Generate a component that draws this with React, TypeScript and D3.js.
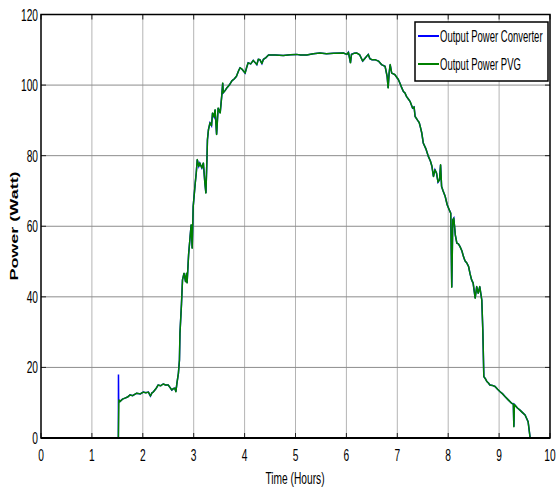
import React from "react";
import * as d3 from "d3";

const xTicks = [0, 1, 2, 3, 4, 5, 6, 7, 8, 9, 10];
const yTicks = [0, 20, 40, 60, 80, 100, 120];

// Output Power PVG (time in hours, power in W)
const pvgTime = [
  0, 1.52, 1.53, 1.55, 1.6, 1.65, 1.7, 1.75, 1.8, 1.88, 1.95, 2.01, 2.06, 2.11, 2.15, 2.18, 2.21, 2.26, 2.3, 2.35,
  2.4, 2.45, 2.5, 2.54, 2.57, 2.6, 2.63, 2.65, 2.67, 2.7, 2.72, 2.73, 2.76, 2.78, 2.81, 2.84, 2.86, 2.87, 2.9, 2.93,
  2.95, 2.97, 2.99, 3.03, 3.05, 3.07, 3.1, 3.12, 3.16, 3.19, 3.22, 3.24, 3.26, 3.27, 3.29, 3.32, 3.35, 3.37, 3.4, 3.42,
  3.45, 3.48, 3.52, 3.55, 3.57, 3.58, 3.62, 3.65, 3.7, 3.75, 3.8, 3.84, 3.88, 3.91, 3.95, 4.01, 4.04, 4.07, 4.12, 4.17,
  4.2, 4.24, 4.27, 4.3, 4.34, 4.37, 4.42, 4.47, 4.6, 4.76, 4.9, 5.02, 5.1, 5.22, 5.35, 5.48, 5.61, 5.75, 5.94, 6.01,
  6.04, 6.08, 6.1, 6.15, 6.2, 6.26, 6.32, 6.37, 6.43, 6.46, 6.5, 6.56, 6.63, 6.69, 6.76, 6.8, 6.82, 6.84, 6.86, 6.89,
  6.95, 7.02, 7.05, 7.08, 7.12, 7.15, 7.18, 7.22, 7.25, 7.3, 7.33, 7.35, 7.4, 7.43, 7.45, 7.48, 7.51, 7.56, 7.61, 7.65,
  7.68, 7.71, 7.74, 7.77, 7.8, 7.83, 7.85, 7.87, 7.9, 7.94, 7.98, 8.02, 8.05, 8.07, 8.09, 8.11, 8.14, 8.17, 8.2, 8.23,
  8.27, 8.3, 8.33, 8.37, 8.4, 8.43, 8.46, 8.49, 8.53, 8.56, 8.59, 8.62, 8.66, 8.68, 8.7, 8.73, 8.76, 8.79, 8.82, 8.87,
  8.92, 8.97, 9.02, 9.07, 9.12, 9.18, 9.25, 9.28, 9.29, 9.3, 9.36, 9.41, 9.46, 9.51, 9.57, 9.61,
];
const pvgPower = [
  0, 0, 10.8, 10.3, 11.0, 11.3, 11.6, 12.2, 12.0, 12.7, 12.5, 13.0, 12.8, 13.0, 11.9, 12.8, 13.1, 14.0, 15.0, 14.8,
  15.3, 15.0, 15.0, 14.2, 13.6, 14.0, 14.1, 13.1, 15.5, 18.4, 22.1, 29.7, 38.0, 44.8, 46.7, 44.3, 46.7, 43.9, 52.0, 57.1,
  60.4, 53.8, 65.6, 72.2, 75.1, 78.9, 77.0, 77.9, 76.5, 77.9, 72.2, 69.4, 78.9, 84.5, 87.4, 89.3, 88.5, 92.1, 91.0, 93.0,
  86.0, 93.5, 92.1, 96.8, 100.6, 97.8, 98.5, 99.2, 100.0, 101.2, 101.8, 102.5, 104.0, 104.9, 104.5, 103.4, 105.0, 106.3, 106.0, 107.0,
  106.5, 105.8, 107.3, 107.2, 106.1, 107.3, 107.8, 108.5, 108.5, 108.4, 108.6, 108.7, 108.5, 108.5, 108.9, 109.1, 108.9, 109.0, 109.1, 108.7,
  109.3, 106.3, 108.7, 109.0, 109.1, 108.6, 106.8, 107.7, 108.7, 107.5, 107.2, 107.2, 106.8, 105.8, 105.3, 102.5, 99.2, 103.5, 105.8, 103.4,
  103.0, 101.6, 100.6, 99.5, 98.2, 97.8, 96.8, 96.0, 95.4, 93.5, 93.8, 91.1, 90.0, 89.4, 88.3, 86.5, 83.6, 82.0, 79.8, 78.5,
  77.0, 74.1, 76.0, 75.1, 72.5, 73.2, 77.4, 71.3, 70.0, 68.5, 66.1, 64.7, 63.7, 42.7, 61.8, 62.3, 57.5, 55.2, 55.0, 54.3,
  53.0, 51.4, 50.2, 49.5, 48.6, 46.5, 44.8, 43.9, 39.6, 42.9, 41.0, 42.9, 39.1, 30.6, 17.4, 16.8, 16.0, 15.6, 15.0, 14.9,
  14.6, 13.8, 13.1, 12.5, 11.7, 10.8, 9.8, 9.6, 3.2, 9.5, 8.5, 7.9, 7.2, 6.5, 4.6, 0,
];

// Output Power Converter: follows the PVG curve, with a start-up spike
const converterSpikeTime = [1.52, 1.522, 1.526];
const converterSpikePower = [0, 18.0, 10.5];

const W = 557;
const H = 489;
const left = 41;
const right = 550;
const top = 14.5;
const bottom = 438;

export default function App() {
  const x = d3.scaleLinear().domain([0, 10]).range([left, right]);
  const y = d3.scaleLinear().domain([0, 120]).range([bottom, top]);

  const pvg: [number, number][] = pvgTime.map((t, i) => [t, pvgPower[i]]);
  const spike: [number, number][] = converterSpikeTime.map((t, i) => [t, converterSpikePower[i]]);
  const converter: [number, number][] = [
    ...pvg.filter((d) => d[0] < 1.52),
    ...spike,
    ...pvg.filter((d) => d[0] > 1.526),
  ];

  const line = d3
    .line<[number, number]>()
    .x((d) => x(d[0]))
    .y((d) => y(d[1]));

  const font = "'Liberation Sans', Arial, sans-serif";
  const sx = 0.6;
  const lx = 0.56;

  return (
    <svg
      width={W}
      height={H}
      style={{ position: "absolute", left: 0, top: 0, background: "#fff" }}
    >
      <rect x={0} y={0} width={W} height={H} fill="#fff" />
      {/* grid */}
      {xTicks.slice(1, -1).map((t) => (
        <line key={"gx" + t} x1={x(t)} x2={x(t)} y1={top} y2={bottom} stroke="#b4b4b4" strokeWidth={1} />
      ))}
      {yTicks.slice(1, -1).map((t) => (
        <line key={"gy" + t} x1={left} x2={right} y1={y(t)} y2={y(t)} stroke="#8c8c8c" strokeWidth={1} />
      ))}
      {/* ticks */}
      {xTicks.map((t) => (
        <g key={"tx" + t}>
          <line x1={x(t)} x2={x(t)} y1={bottom} y2={bottom - 5} stroke="#222" strokeWidth={1} />
          <line x1={x(t)} x2={x(t)} y1={top} y2={top + 5} stroke="#222" strokeWidth={1} />
        </g>
      ))}
      {yTicks.map((t) => (
        <g key={"ty" + t}>
          <line x1={left} x2={left + 5} y1={y(t)} y2={y(t)} stroke="#222" strokeWidth={1} />
          <line x1={right} x2={right - 5} y1={y(t)} y2={y(t)} stroke="#222" strokeWidth={1} />
        </g>
      ))}
      {/* series */}
      <path d={line(converter) || ""} fill="none" stroke="#0000ff" strokeWidth={1.5} />
      <path d={line(pvg) || ""} fill="none" stroke="#008000" strokeWidth={1.5} strokeLinejoin="round" />
      {/* frame */}
      <rect x={left} y={top} width={right - left} height={bottom - top} fill="none" stroke="#000" strokeWidth={1.5} />
      <line x1={left} x2={right} y1={bottom} y2={bottom} stroke="#000" strokeWidth={2} />
      {/* tick labels */}
      {xTicks.map((t) => (
        <text
          key={"lx" + t}
          transform={`translate(${x(t)},${461}) scale(${sx},1)`}
          textAnchor="middle"
          fontFamily={font}
          fontSize={17}
          fill="#000"
        >
          {t}
        </text>
      ))}
      {yTicks.map((t) => (
        <text
          key={"ly" + t}
          transform={`translate(${left - 3},${y(t) + 6}) scale(${sx},1)`}
          textAnchor="end"
          fontFamily={font}
          fontSize={17}
          fill="#000"
        >
          {t}
        </text>
      ))}
      {/* axis labels */}
      <text
        transform={`translate(295,484) scale(${sx},1)`}
        textAnchor="middle"
        fontFamily={font}
        fontSize={17}
        fill="#000"
      >
        Time (Hours)
      </text>
      <text
        transform={`translate(18,226) scale(${sx},1) rotate(-90)`}
        textAnchor="middle"
        fontFamily={font}
        fontSize={18}
        fontWeight="bold"
        fill="#000"
      >
        Power (Watt)
      </text>
      {/* legend */}
      <rect x={415} y={22} width={133} height={59} fill="#fff" stroke="#000" strokeWidth={1.5} />
      <line x1={418} x2={439} y1={36} y2={36} stroke="#0000ff" strokeWidth={2} />
      <line x1={418} x2={439} y1={64} y2={64} stroke="#008000" strokeWidth={2} />
      <text
        transform={`translate(440,42) scale(${lx},1)`}
        fontFamily={font}
        fontSize={17}
        fill="#000"
      >
        Output Power Converter
      </text>
      <text
        transform={`translate(440,70) scale(${lx},1)`}
        fontFamily={font}
        fontSize={17}
        fill="#000"
      >
        Output Power PVG
      </text>
    </svg>
  );
}
